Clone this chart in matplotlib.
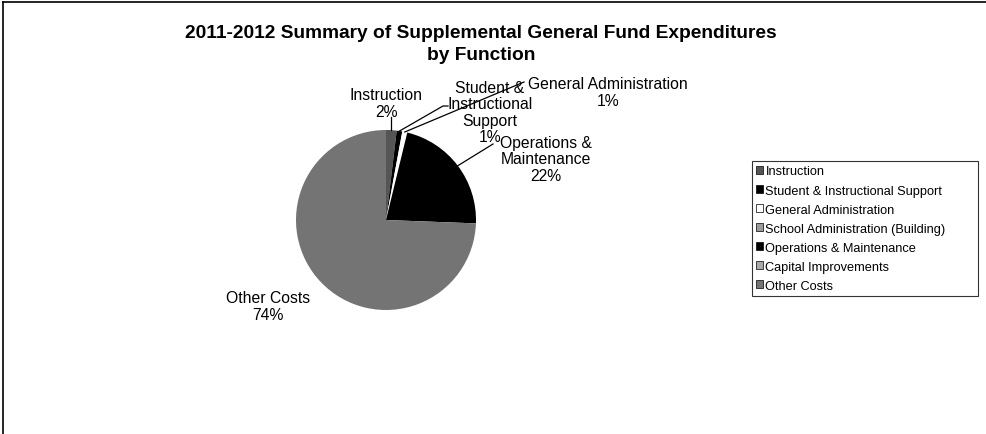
import matplotlib
matplotlib.use("Agg")
import matplotlib.pyplot as plt
from matplotlib.lines import Line2D
import numpy as np

plt.rcParams['font.family'] = ['Liberation Sans', 'DejaVu Sans']

# data (percent of total)
categories = ["Instruction", "Student & Instructional Support", "General Administration",
              "School Administration (Building)", "Operations & Maintenance",
              "Capital Improvements", "Other Costs"]
values = [1.9, 1.0, 0.9, 0.0, 21.8, 0.0, 74.4]
colors = ["#555555", "#000000", "#ffffff", "#9a9a9a", "#000000", "#a8a8a8", "#747474"]

# label text shown next to the pie (only non-zero slices)
pie_labels = {0: "Instruction", 1: "Student &\nInstructional\nSupport",
              2: "General Administration", 4: "Operations &\nMaintenance",
              6: "Other Costs"}

W, H = 986, 435
fig = plt.figure(figsize=(W / 100, H / 100), dpi=100)
ax = fig.add_axes([0, 0, 1, 1])

cx, cy, r = 386, H - 221, 90
wedges, _ = ax.pie(values, colors=colors, startangle=90, counterclock=False,
                   center=(cx, cy), radius=r, frame=True,
                   wedgeprops=dict(edgecolor="none", linewidth=0))
ax.set_xlim(0, W)
ax.set_ylim(0, H)
ax.set_aspect("equal")
ax.axis("off")

total = sum(values)
# label centers in pixel coords (x, y from top)
label_pos = {0: (386, 104), 1: (490, 113), 2: (608, 93), 4: (546, 160), 6: (268, 307)}
# where the leader line ends (pixel coords)
line_end = {1: (443, 107), 2: (524, 83), 4: (493, 145)}

cum = 0
for i, v in enumerate(values):
    mid = cum + v / 2
    cum += v
    if i not in pie_labels:
        continue
    ang = np.deg2rad(90 - 360 * mid / total)
    ex, ey = cx + r * np.cos(ang), cy + r * np.sin(ang)
    lx, ly = label_pos[i]
    txt = f"{pie_labels[i]}\n{round(v / total * 100)}%"
    ax.text(lx, H - ly, txt, ha="center", va="center", fontsize=11.3,
            linespacing=1.1, color="black")
    if i == 0:
        ax.plot([ex, ex], [ey, H - 118], color="black", lw=0.9)
    elif i in line_end:
        px, py = line_end[i]
        xs, ys = [ex, px], [ey, H - py]
        if i == 1:
            xs.append(px + 5)
            ys.append(H - py)
        ax.plot(xs, ys, color="black", lw=0.9)

fig.text(481 / W, 1 - 33 / H, "2011-2012 Summary of Supplemental General Fund Expenditures",
         ha="center", va="center", fontsize=13.8, fontweight="bold")
fig.text(481 / W, 1 - 56 / H, "by Function", ha="center", va="center",
         fontsize=13.8, fontweight="bold")

leg = fig.legend(wedges, categories, loc="upper left", mode="expand",
                 bbox_to_anchor=(752 / W, 1 - 297 / H, 226 / W, 135 / H), fontsize=9.2,
                 frameon=True, fancybox=False, edgecolor="black",
                 handlelength=0.5, handleheight=0.5, handletextpad=0.2,
                 labelspacing=0.55, borderpad=0.35, borderaxespad=0)
leg.get_frame().set_linewidth(0.8)
for h in leg.legend_handles:
    h.set_edgecolor("black")
    h.set_linewidth(0.5)

# outer chart border (left and top edges visible)
fig.add_artist(Line2D([3 / W, 3 / W], [0, 1 - 3 / H], transform=fig.transFigure,
                      color="black", lw=1.2))
fig.add_artist(Line2D([3 / W, 1], [1 - 3 / H, 1 - 3 / H], transform=fig.transFigure,
                      color="black", lw=1.2))

fig.savefig("out.png", dpi=100)
